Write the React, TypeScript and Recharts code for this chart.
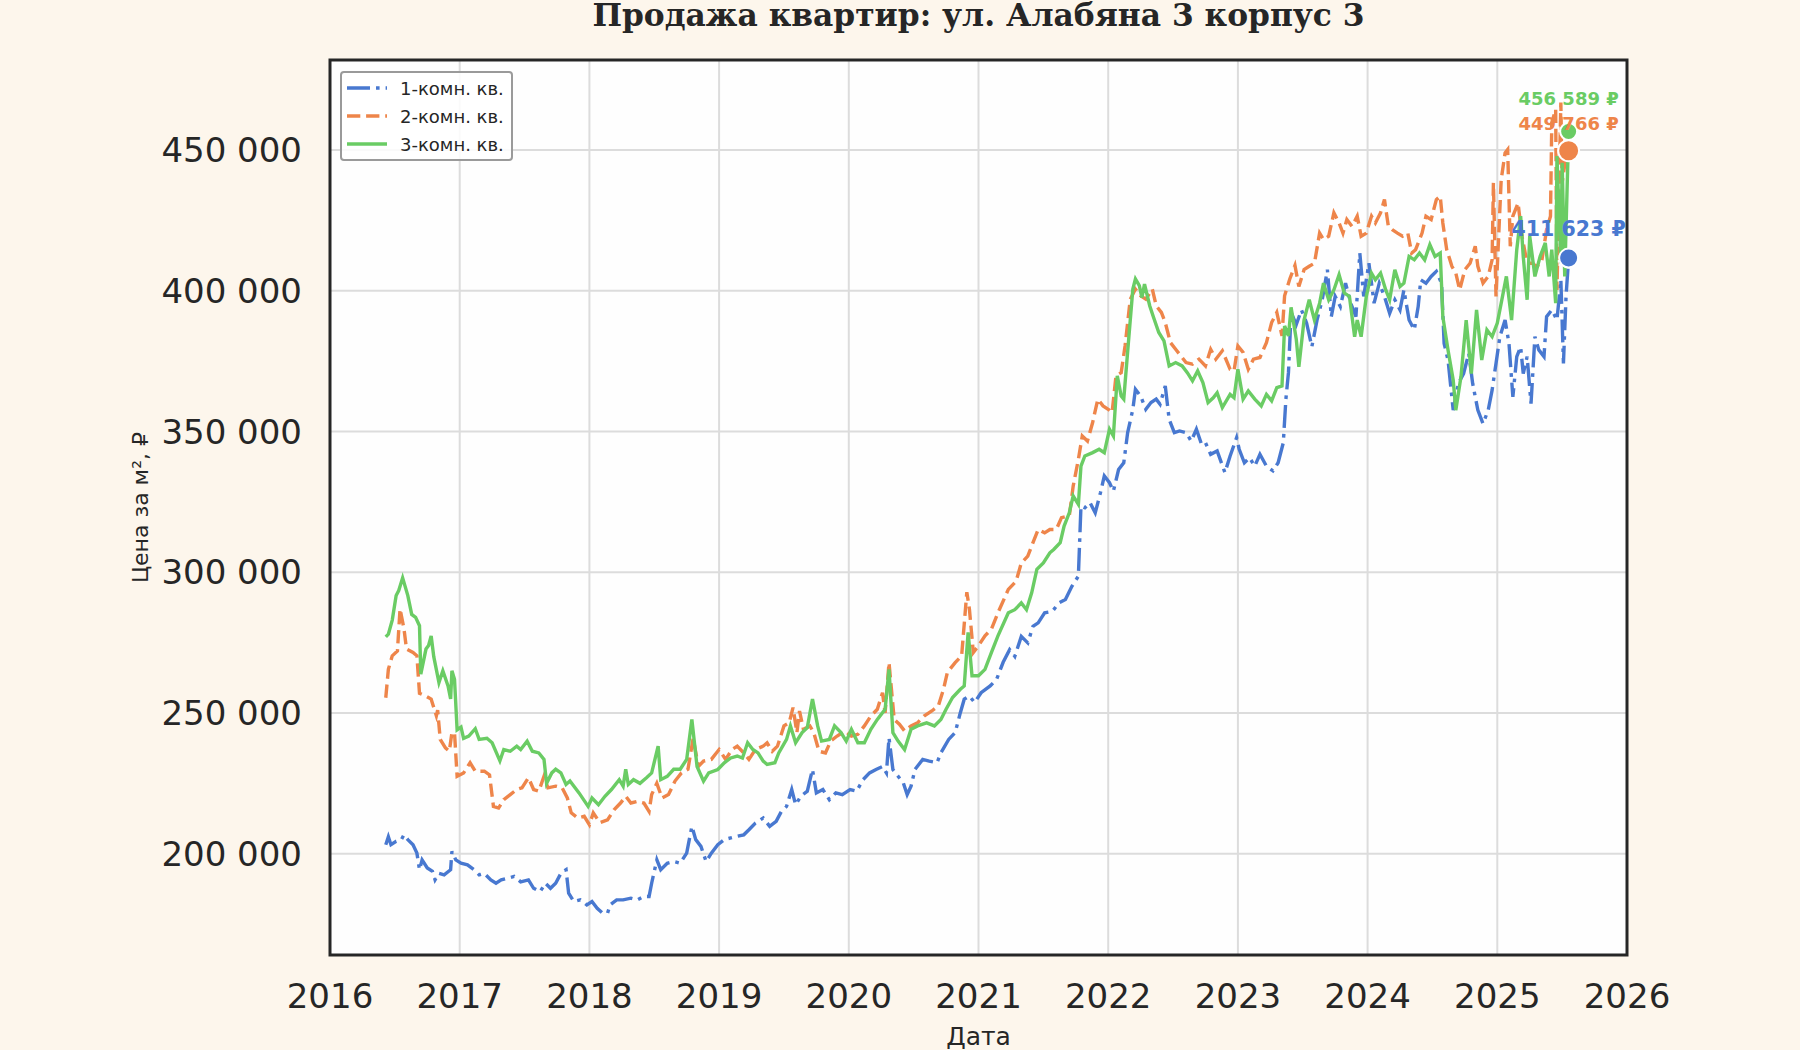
import { LineChart, Line, XAxis, YAxis, CartesianGrid, Legend, ReferenceDot, ReferenceArea } from "recharts"

// [year fraction, price per m², ₽]
const oneRoom: [number, number][] = [
    [2016.43, 203200], [2016.45, 206000], [2016.47, 203200], [2016.51, 204400], [2016.55, 205000],
    [2016.57, 206700], [2016.6, 205000], [2016.64, 203200], [2016.67, 200200], [2016.69, 194300],
    [2016.71, 197800], [2016.75, 194900], [2016.79, 193700], [2016.81, 190700], [2016.84, 193000],
    [2016.88, 192500], [2016.93, 194300], [2016.94, 200800], [2016.97, 197800], [2017.01, 196600],
    [2017.06, 196000], [2017.11, 194300], [2017.15, 192500], [2017.19, 193000], [2017.24, 190700],
    [2017.28, 189500], [2017.32, 190700], [2017.37, 191300], [2017.42, 191900], [2017.47, 190000],
    [2017.53, 190700], [2017.57, 187700], [2017.62, 186500], [2017.66, 189500], [2017.7, 187700],
    [2017.74, 189500], [2017.78, 193000], [2017.82, 194300], [2017.84, 186000], [2017.88, 183000],
    [2017.93, 183600], [2017.98, 181800], [2018.02, 183000], [2018.06, 180600], [2018.1, 178900],
    [2018.14, 178900], [2018.16, 181800], [2018.21, 183600], [2018.26, 183600], [2018.32, 184200],
    [2018.37, 183600], [2018.42, 184800], [2018.46, 184800], [2018.48, 189500], [2018.52, 197800],
    [2018.55, 194300], [2018.6, 196600], [2018.65, 197200], [2018.7, 196600], [2018.75, 200200],
    [2018.79, 209700], [2018.82, 205000], [2018.86, 202600], [2018.9, 197200], [2018.94, 200200],
    [2018.99, 203200], [2019.04, 205000], [2019.09, 205600], [2019.14, 206200], [2019.19, 206700],
    [2019.23, 208500], [2019.28, 210900], [2019.34, 212700], [2019.39, 209700], [2019.44, 211500],
    [2019.48, 215000], [2019.52, 216800], [2019.56, 222800], [2019.59, 217400], [2019.63, 220400],
    [2019.68, 222200], [2019.72, 229900], [2019.75, 221600], [2019.8, 222800], [2019.85, 219200],
    [2019.9, 221600], [2019.95, 221000], [2020.01, 222800], [2020.06, 222200], [2020.11, 226300],
    [2020.16, 228700], [2020.21, 229900], [2020.26, 231000], [2020.29, 228700], [2020.31, 241200],
    [2020.34, 229900], [2020.38, 227500], [2020.42, 225200], [2020.45, 221000], [2020.48, 224000],
    [2020.51, 229900], [2020.57, 233500], [2020.62, 232900], [2020.68, 232300], [2020.71, 235800],
    [2020.77, 240600], [2020.82, 243000], [2020.86, 250100], [2020.89, 254900], [2020.93, 256000],
    [2020.97, 253700], [2021.02, 257200], [2021.09, 259600], [2021.14, 262000], [2021.19, 268000],
    [2021.24, 272500], [2021.28, 270100], [2021.33, 277200], [2021.38, 274900], [2021.42, 280800],
    [2021.46, 282000], [2021.51, 285600], [2021.57, 286100], [2021.62, 289100], [2021.67, 290300],
    [2021.72, 295000], [2021.77, 298600], [2021.79, 323500], [2021.82, 322900], [2021.86, 324700],
    [2021.9, 321100], [2021.94, 328200], [2021.97, 334200], [2022.01, 331800], [2022.04, 328800],
    [2022.08, 336500], [2022.12, 338900], [2022.15, 349600], [2022.19, 357900], [2022.21, 365000],
    [2022.25, 362600], [2022.29, 357900], [2022.33, 360300], [2022.37, 361500], [2022.4, 359700],
    [2022.44, 366200], [2022.47, 354300], [2022.51, 349600], [2022.55, 350200], [2022.6, 349600],
    [2022.64, 346600], [2022.68, 350800], [2022.72, 345400], [2022.75, 346000], [2022.79, 341900],
    [2022.84, 343100], [2022.9, 335400], [2022.94, 341300], [2022.99, 347800], [2023.01, 343700],
    [2023.05, 338900], [2023.09, 340700], [2023.13, 337700], [2023.17, 341900], [2023.22, 337700],
    [2023.27, 336000], [2023.31, 338900], [2023.35, 346000], [2023.37, 361500], [2023.39, 371000],
    [2023.41, 392300], [2023.45, 388000], [2023.49, 393200], [2023.53, 388500], [2023.57, 380100],
    [2023.61, 389600], [2023.65, 396800], [2023.69, 407500], [2023.72, 390800], [2023.75, 398000],
    [2023.79, 394400], [2023.83, 402700], [2023.87, 395600], [2023.91, 390800], [2023.94, 413400],
    [2023.97, 398000], [2024.01, 409800], [2024.05, 395600], [2024.09, 402700], [2024.13, 398000],
    [2024.17, 392000], [2024.21, 396800], [2024.25, 393200], [2024.28, 400300], [2024.32, 389600],
    [2024.36, 386100], [2024.39, 394400], [2024.41, 403900], [2024.45, 402700], [2024.49, 405100],
    [2024.53, 406900], [2024.57, 402700], [2024.59, 381300], [2024.62, 375400], [2024.66, 357600],
    [2024.7, 367100], [2024.74, 370600], [2024.78, 377800], [2024.81, 367100], [2024.85, 357600],
    [2024.89, 352800], [2024.93, 357600], [2024.96, 364700], [2024.99, 374200], [2025.02, 383700],
    [2025.06, 389600], [2025.09, 381300], [2025.12, 362300], [2025.15, 376600], [2025.18, 380100],
    [2025.2, 370600], [2025.23, 376600], [2025.26, 359900], [2025.29, 383700], [2025.32, 379000],
    [2025.36, 376600], [2025.38, 390800], [2025.42, 393200], [2025.46, 389600], [2025.49, 403900],
    [2025.51, 374200], [2025.53, 398000], [2025.55, 411623],
]

const twoRoom: [number, number][] = [
    [2016.43, 255400], [2016.45, 265500], [2016.48, 270300], [2016.52, 272000], [2016.54, 287000],
    [2016.57, 280000], [2016.59, 272700], [2016.64, 271500], [2016.67, 270300], [2016.69, 257000],
    [2016.74, 256000], [2016.78, 254900], [2016.82, 249000], [2016.83, 251000], [2016.85, 240600],
    [2016.89, 237600], [2016.92, 236400], [2016.94, 243000], [2016.96, 243000], [2016.98, 227500],
    [2017.03, 228700], [2017.08, 232300], [2017.12, 229300], [2017.19, 229300], [2017.23, 228000],
    [2017.26, 216800], [2017.3, 216200], [2017.34, 219200], [2017.39, 221000], [2017.44, 222800],
    [2017.48, 223400], [2017.53, 227000], [2017.57, 222800], [2017.61, 222200], [2017.65, 227500],
    [2017.68, 223400], [2017.74, 224000], [2017.79, 223400], [2017.83, 219800], [2017.86, 214500],
    [2017.91, 212700], [2017.96, 213300], [2018.0, 210300], [2018.03, 214500], [2018.08, 211000],
    [2018.14, 212000], [2018.19, 215600], [2018.24, 218000], [2018.28, 220400], [2018.32, 218000],
    [2018.37, 218600], [2018.42, 218000], [2018.46, 215000], [2018.48, 221000], [2018.52, 225000],
    [2018.56, 219800], [2018.61, 221000], [2018.66, 225800], [2018.71, 228700], [2018.76, 230000],
    [2018.8, 241000], [2018.84, 231000], [2018.88, 232900], [2018.94, 233500], [2019.0, 237000],
    [2019.05, 233500], [2019.1, 237000], [2019.14, 238200], [2019.19, 235800], [2019.23, 233500],
    [2019.28, 237000], [2019.34, 238200], [2019.37, 239400], [2019.41, 236400], [2019.45, 238200],
    [2019.5, 245400], [2019.54, 246500], [2019.57, 251900], [2019.6, 243000], [2019.62, 250700],
    [2019.65, 244200], [2019.7, 245400], [2019.73, 243000], [2019.77, 236400], [2019.82, 235800],
    [2019.86, 240000], [2019.91, 241800], [2019.97, 243600], [2020.02, 241800], [2020.07, 242400],
    [2020.12, 245400], [2020.17, 248900], [2020.22, 251300], [2020.26, 257200], [2020.28, 250000],
    [2020.31, 267900], [2020.35, 247700], [2020.39, 246000], [2020.43, 243600], [2020.48, 245400],
    [2020.53, 246500], [2020.58, 248900], [2020.64, 250700], [2020.69, 252500], [2020.73, 258400],
    [2020.76, 264400], [2020.82, 267900], [2020.87, 270300], [2020.91, 292900], [2020.93, 286900],
    [2020.96, 271500], [2021.0, 273900], [2021.05, 277400], [2021.1, 279800], [2021.15, 285600],
    [2021.23, 293900], [2021.29, 296800], [2021.33, 303300], [2021.38, 305700], [2021.42, 310500],
    [2021.46, 315200], [2021.51, 314000], [2021.55, 315200], [2021.6, 315200], [2021.64, 319400],
    [2021.7, 320000], [2021.73, 330600], [2021.77, 340100], [2021.8, 348400], [2021.84, 346600],
    [2021.88, 353200], [2021.92, 361500], [2021.96, 359100], [2022.0, 357900], [2022.03, 356700],
    [2022.06, 369800], [2022.1, 370900], [2022.13, 380400], [2022.17, 397000], [2022.21, 400600],
    [2022.25, 398200], [2022.29, 397000], [2022.34, 400600], [2022.37, 394700], [2022.41, 392300],
    [2022.44, 388700], [2022.48, 381600], [2022.52, 379200], [2022.56, 376900], [2022.6, 374500],
    [2022.65, 373900], [2022.7, 375700], [2022.75, 373300], [2022.79, 379200], [2022.83, 375700],
    [2022.88, 378700], [2022.94, 372100], [2022.97, 371500], [2023.0, 380400], [2023.04, 378100],
    [2023.08, 372100], [2023.12, 375700], [2023.17, 376300], [2023.22, 381600], [2023.26, 388700],
    [2023.3, 392300], [2023.34, 384000], [2023.36, 398200], [2023.4, 404200], [2023.44, 409000],
    [2023.47, 401500], [2023.51, 407500], [2023.55, 408700], [2023.59, 409800], [2023.63, 420500],
    [2023.66, 418200], [2023.7, 419400], [2023.74, 427700], [2023.78, 424100], [2023.81, 420500],
    [2023.84, 425300], [2023.88, 422900], [2023.92, 426500], [2023.95, 419400], [2023.99, 420500],
    [2024.03, 426500], [2024.06, 424100], [2024.1, 427700], [2024.13, 432400], [2024.16, 422900],
    [2024.19, 421700], [2024.23, 420500], [2024.27, 419400], [2024.31, 420500], [2024.34, 413400],
    [2024.37, 414600], [2024.42, 420500], [2024.45, 426500], [2024.49, 425300], [2024.53, 432400],
    [2024.56, 433600], [2024.58, 424100], [2024.61, 414600], [2024.65, 408700], [2024.68, 406300],
    [2024.71, 400300], [2024.75, 407500], [2024.79, 409800], [2024.83, 415800], [2024.85, 408700],
    [2024.89, 402700], [2024.93, 405100], [2024.96, 411000], [2024.97, 438400], [2024.99, 398000],
    [2025.03, 439500], [2025.06, 449000], [2025.08, 450200], [2025.1, 415800], [2025.12, 426500],
    [2025.16, 431200], [2025.19, 419400], [2025.23, 409800], [2025.27, 409800], [2025.3, 408700],
    [2025.34, 409800], [2025.38, 421700], [2025.41, 426500], [2025.42, 459700], [2025.45, 464500],
    [2025.46, 400300], [2025.49, 466900], [2025.5, 438400], [2025.53, 447900], [2025.55, 449766],
]

const threeRoom: [number, number][] = [
    [2016.43, 277000], [2016.45, 278000], [2016.48, 283000], [2016.51, 291700], [2016.53, 293500],
    [2016.56, 298000], [2016.6, 291700], [2016.63, 285000], [2016.66, 284000], [2016.69, 281000],
    [2016.7, 263800], [2016.74, 272700], [2016.76, 274000], [2016.78, 277400], [2016.8, 270000],
    [2016.84, 260800], [2016.87, 265000], [2016.91, 259600], [2016.93, 255000], [2016.94, 265000],
    [2016.96, 262000], [2016.98, 244000], [2017.01, 245000], [2017.03, 241000], [2017.07, 241800],
    [2017.12, 244400], [2017.15, 240600], [2017.21, 241000], [2017.25, 239400], [2017.31, 233000],
    [2017.34, 237000], [2017.39, 236400], [2017.44, 238200], [2017.47, 237000], [2017.52, 240000],
    [2017.56, 236400], [2017.61, 235800], [2017.65, 233500], [2017.67, 225000], [2017.71, 228700],
    [2017.74, 230000], [2017.78, 228700], [2017.82, 224600], [2017.85, 225800], [2017.92, 221600],
    [2017.99, 216800], [2018.02, 219800], [2018.07, 217400], [2018.12, 220400], [2018.17, 222800],
    [2018.23, 226300], [2018.26, 224000], [2018.28, 230000], [2018.3, 224600], [2018.34, 226300],
    [2018.39, 225000], [2018.44, 227000], [2018.48, 228700], [2018.53, 238200], [2018.55, 226300],
    [2018.6, 227500], [2018.65, 230000], [2018.7, 230000], [2018.75, 233500], [2018.79, 247700],
    [2018.83, 231000], [2018.88, 225800], [2018.92, 228700], [2018.99, 229900], [2019.04, 232300],
    [2019.09, 234000], [2019.14, 234700], [2019.18, 234000], [2019.22, 239400], [2019.26, 237000],
    [2019.3, 235800], [2019.34, 232900], [2019.37, 231700], [2019.43, 232300], [2019.46, 235800],
    [2019.52, 240600], [2019.55, 245400], [2019.59, 239400], [2019.64, 243000], [2019.68, 244800],
    [2019.72, 254900], [2019.76, 245400], [2019.79, 240000], [2019.85, 240600], [2019.89, 245400],
    [2019.94, 243000], [2019.98, 240000], [2020.02, 244200], [2020.07, 239400], [2020.12, 239400],
    [2020.17, 244200], [2020.22, 247700], [2020.28, 251300], [2020.31, 265500], [2020.34, 243000],
    [2020.38, 240000], [2020.43, 237000], [2020.48, 244200], [2020.53, 245400], [2020.6, 246500],
    [2020.66, 245400], [2020.71, 247700], [2020.75, 251300], [2020.8, 255500], [2020.86, 258400],
    [2020.89, 259600], [2020.92, 278600], [2020.95, 263200], [2021.0, 263200], [2021.05, 265500],
    [2021.1, 271500], [2021.15, 277400], [2021.23, 285600], [2021.28, 286700], [2021.33, 289100],
    [2021.37, 286700], [2021.41, 292700], [2021.45, 301000], [2021.5, 303300], [2021.55, 306900],
    [2021.58, 308100], [2021.63, 310500], [2021.66, 316400], [2021.7, 321100], [2021.73, 327100],
    [2021.77, 324100], [2021.79, 337700], [2021.82, 341300], [2021.88, 342500], [2021.93, 343700],
    [2021.97, 342500], [2022.01, 350800], [2022.04, 348400], [2022.07, 369800], [2022.1, 362600],
    [2022.12, 361500], [2022.16, 384000], [2022.19, 400600], [2022.21, 404200], [2022.24, 401800],
    [2022.26, 397600], [2022.28, 402400], [2022.32, 394700], [2022.35, 390500], [2022.39, 385200],
    [2022.43, 382200], [2022.47, 373300], [2022.52, 374500], [2022.57, 373300], [2022.61, 370900],
    [2022.65, 368000], [2022.69, 371500], [2022.73, 367400], [2022.77, 360300], [2022.81, 362000],
    [2022.84, 363800], [2022.88, 358500], [2022.94, 363200], [2022.97, 362000], [2023.0, 372100],
    [2023.04, 361500], [2023.08, 364400], [2023.13, 361500], [2023.18, 359100], [2023.22, 363200],
    [2023.26, 360900], [2023.3, 365600], [2023.34, 366200], [2023.36, 387500], [2023.39, 384000],
    [2023.41, 394100], [2023.45, 382800], [2023.47, 373000], [2023.51, 389600], [2023.55, 396800],
    [2023.59, 389600], [2023.63, 395600], [2023.66, 402700], [2023.7, 396800], [2023.74, 400300],
    [2023.78, 405700], [2023.82, 399200], [2023.86, 398000], [2023.9, 383700], [2023.92, 389600],
    [2023.95, 383700], [2023.99, 398000], [2024.03, 406300], [2024.06, 403900], [2024.1, 406300],
    [2024.14, 400300], [2024.17, 396800], [2024.21, 407500], [2024.25, 401500], [2024.28, 402700],
    [2024.32, 412200], [2024.36, 411000], [2024.4, 413400], [2024.44, 411000], [2024.48, 416400],
    [2024.52, 412200], [2024.56, 413400], [2024.58, 390800], [2024.62, 379000], [2024.66, 368300],
    [2024.68, 357600], [2024.72, 369500], [2024.76, 389600], [2024.8, 370600], [2024.84, 393200],
    [2024.88, 375400], [2024.92, 386100], [2024.96, 383700], [2025.0, 388500], [2025.03, 395600],
    [2025.07, 405100], [2025.11, 389600], [2025.15, 414600], [2025.18, 426500], [2025.2, 412200],
    [2025.23, 396800], [2025.25, 419400], [2025.29, 405100], [2025.33, 412200], [2025.37, 417000],
    [2025.4, 405100], [2025.42, 414600], [2025.45, 395600], [2025.46, 447900], [2025.49, 409800],
    [2025.5, 445500], [2025.52, 405100], [2025.55, 456589],
]

const yearTicks = [2016, 2017, 2018, 2019, 2020, 2021, 2022, 2023, 2024, 2025, 2026]
const priceTicks = [200000, 250000, 300000, 350000, 400000, 450000]

const FONT = '"DejaVu Sans", sans-serif'
const INK = "#262626"

const series = [
    { name: "1-комн. кв.", points: oneRoom, color: "#4878d0", dash: "23 6 3.6 6", dotR: 9.5, labelSize: 20.5, labelOffset: 13 },
    { name: "2-комн. кв.", points: twoRoom, color: "#ee854a", dash: "13.3 5.8", dotR: 10.5, labelSize: 18, labelOffset: 10 },
    { name: "3-комн. кв.", points: threeRoom, color: "#6acc64", dash: undefined, dotR: 8.5, labelSize: 18, labelOffset: 18 },
]

function spaced(v: number) {
    return Math.round(v).toString().replace(/\B(?=(\d{3})+(?!\d))/g, " ")
}

function LegendBox() {
    return (
        <div
            style={{
                border: "2.5px solid #9a9a9a",
                borderRadius: 4,
                background: "rgba(255,255,255,0.85)",
                padding: "1px 7px 1px 5px",
                fontFamily: FONT,
                fontSize: 18,
                color: INK,
            }}
        >
            {series.map(s => (
                <div key={s.name} style={{ display: "flex", alignItems: "center", height: 28 }}>
                    <svg width={40} height={10} style={{ marginRight: 13 }}>
                        <line x1={0} y1={5} x2={40} y2={5} stroke={s.color} strokeWidth={3.4} strokeDasharray={s.dash} />
                    </svg>
                    <span>{s.name}</span>
                </div>
            ))}
        </div>
    )
}

export default function App() {
    return (
        <div style={{ position: "absolute", left: 0, top: 0, width: 1800, height: 1050, background: "#fdf6ec" }}>
            <div
                style={{
                    position: "absolute",
                    left: 330,
                    width: 1297,
                    top: 0,
                    textAlign: "center",
                    fontFamily: '"DejaVu Serif", serif',
                    fontWeight: "bold",
                    fontSize: 31.3,
                    lineHeight: "30px",
                    color: INK,
                }}
            >
                Продажа квартир: ул. Алабяна 3 корпус 3
            </div>
            <LineChart width={1800} height={1050} margin={{ top: 60, right: 173, bottom: 0, left: 0 }}>
                <CartesianGrid stroke="#dcdcdc" strokeWidth={2} fill="#fefefe" />
                <XAxis
                    dataKey="t"
                    type="number"
                    domain={[2016, 2026]}
                    ticks={yearTicks}
                    allowDataOverflow
                    height={95}
                    axisLine={false}
                    tickLine={false}
                    tickSize={0}
                    tickMargin={29}
                    tick={{ fontSize: 34, fill: INK, fontFamily: FONT }}
                    label={{ value: "Дата", position: "insideBottom", offset: 5, fontSize: 25, fill: INK, fontFamily: FONT }}
                />
                <YAxis
                    type="number"
                    domain={[164000, 482000]}
                    ticks={priceTicks}
                    allowDataOverflow
                    width={330}
                    axisLine={false}
                    tickLine={false}
                    tickSize={0}
                    tickMargin={28}
                    tickFormatter={spaced}
                    tick={{ fontSize: 34, fill: INK, fontFamily: FONT }}
                    label={{ value: "Цена за м², ₽", angle: -90, position: "center", dx: -25, fontSize: 22, fill: INK, fontFamily: FONT }}
                />
                <Legend
                    layout="vertical"
                    align="center"
                    verticalAlign="middle"
                    content={() => <LegendBox />}
                    wrapperStyle={{ left: 340, top: 71, width: "auto" }}
                />
                {series.map(s => (
                    <Line
                        key={s.name}
                        name={s.name}
                        data={s.points.map(([t, v]) => ({ t, v }))}
                        dataKey="v"
                        type="linear"
                        stroke={s.color}
                        strokeWidth={3.4}
                        strokeDasharray={s.dash}
                        dot={false}
                        activeDot={false}
                        isAnimationActive={false}
                    />
                ))}
                {series.map(s => {
                    const [t, v] = s.points[s.points.length - 1]
                    return (
                        <ReferenceDot
                            key={s.name + "-last"}
                            x={t}
                            y={v}
                            r={s.dotR}
                            fill={s.color}
                            stroke="#ffffff"
                            strokeWidth={2}
                            label={{
                                value: `${spaced(v)} ₽`,
                                position: "top",
                                offset: s.labelOffset,
                                fill: s.color,
                                fontSize: s.labelSize,
                                fontWeight: "bold",
                                fontFamily: FONT,
                            }}
                        />
                    )
                })}
                <ReferenceArea x1={2016} x2={2026} y1={164000} y2={482000} fill="none" stroke={INK} strokeWidth={3} />
            </LineChart>
        </div>
    )
}
